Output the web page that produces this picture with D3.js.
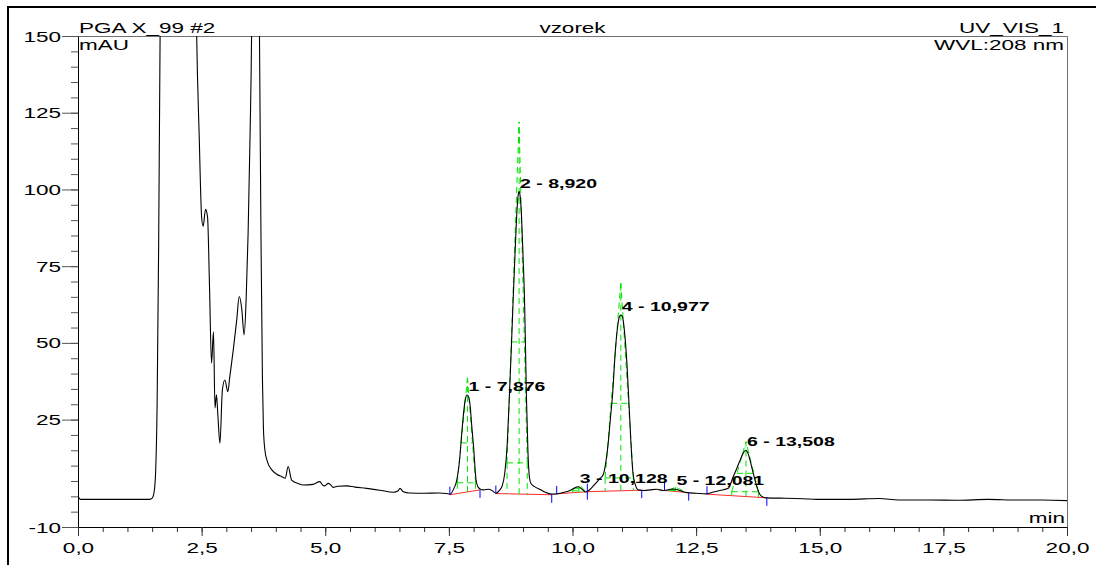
<!DOCTYPE html>
<html>
<head>
<meta charset="utf-8">
<script src="https://cdnjs.cloudflare.com/ajax/libs/d3/7.8.5/d3.min.js"></script>
<style>
  html, body { margin: 0; padding: 0; background: #fff; }
  svg { display: block; font-family: 'Liberation Sans', Arial, sans-serif; }
</style>
</head>
<body>
<svg id="chart" width="1096" height="565"></svg>
<script>
// chromatogram trace (min / mAU)
var traceTime = [
  0.00, 0.05, 0.50, 1.00, 1.45, 1.50, 1.54, 1.57, 1.60, 1.63, 1.66, 1.70, 1.80, 2.00, 2.20, 2.35, 2.40, 2.45, 2.50, 2.53,
  2.58, 2.62, 2.66, 2.70, 2.74, 2.77, 2.80, 2.83, 2.87, 2.92, 2.97, 3.03, 3.07, 3.14, 3.21, 3.26, 3.31, 3.36, 3.40, 3.44,
  3.48, 3.51, 3.55, 3.60, 3.64, 3.67, 3.70, 3.73, 3.75, 3.78, 3.82, 3.92, 4.02, 4.12, 4.19, 4.25, 4.32, 4.45, 4.56, 4.75,
  4.89, 4.95, 4.99, 5.06, 5.10, 5.16, 5.25, 5.43, 5.60, 5.83, 6.10, 6.38, 6.47, 6.51, 6.58, 6.70, 7.00, 7.30, 7.45, 7.52,
  7.60, 7.66, 7.72, 7.76, 7.80, 7.83, 7.87, 7.90, 7.93, 7.96, 8.00, 8.05, 8.09, 8.13, 8.20, 8.30, 8.38, 8.45, 8.53, 8.58,
  8.63, 8.68, 8.72, 8.76, 8.80, 8.84, 8.87, 8.90, 8.92, 8.94, 8.97, 9.00, 9.03, 9.05, 9.07, 9.10, 9.13, 9.16, 9.25, 9.35,
  9.45, 9.58, 9.68, 9.80, 9.95, 10.05, 10.12, 10.20, 10.27, 10.32, 10.40, 10.50, 10.56, 10.62, 10.66, 10.72, 10.77, 10.81, 10.86, 10.91,
  10.95, 10.98, 11.01, 11.05, 11.10, 11.14, 11.18, 11.22, 11.27, 11.33, 11.45, 11.57, 11.70, 11.84, 11.95, 12.04, 12.15, 12.31, 12.50, 12.71,
  12.85, 12.98, 13.15, 13.25, 13.32, 13.39, 13.45, 13.50, 13.55, 13.59, 13.64, 13.69, 13.74, 13.79, 13.86, 13.93, 14.20, 14.50, 14.80, 15.00,
  15.60, 16.20, 16.60, 17.20, 17.80, 18.40, 19.00, 19.50, 20.00
];
var traceSignal = [
  0.0, -1.0, -1.0, -1.0, -1.0, -0.6, 1.5, 8, 30, 80, 150, 260, 500, 800, 500, 220, 150, 118, 91, 88,
  93.5, 91, 68, 43.4, 53.6, 28.8, 33.1, 26, 17.3, 34.7, 37.9, 34.1, 39.0, 47.7, 57.5, 65.1, 61.3, 52.6, 64, 85.7,
  118, 150, 260, 280, 200, 150, 85, 38, 22, 15, 11.8, 8.6, 7.2, 6.4, 5.9, 9.7, 5.3, 4.2, 3.7, 3.9,
  4.8, 3.6, 3.4, 4.2, 3.9, 2.9, 3.3, 3.4, 3.0, 2.6, 2.0, 1.3, 1.7, 2.6, 1.5, 1.1, 1.0, 1.1, 0.9, 0.7,
  2.5, 5.3, 12.5, 20.5, 27.5, 31.4, 33.0, 32.3, 29.5, 23.5, 16.0, 5.3, 3.0, 2.4, 2.1, 2.3, 1.8, 1.0, 2.1, 3.5,
  7.5, 17, 31.4, 47, 64, 80, 91.1, 98, 99.3, 98, 91, 78, 64, 48, 31.4, 14, 6.0, 4.2, 3.0, 2.2,
  1.3, 0.7, 0.8, 1.2, 1.9, 2.8, 3.1, 2.2, 1.4, 1.8, 3.0, 4.8, 5.9, 7.0, 9.7, 17, 26, 33, 46, 55,
  58.6, 59.1, 58.5, 54, 43.4, 31, 18, 8, 3.8, 2.1, 1.9, 2.1, 2.3, 1.9, 2.2, 2.4, 2.0, 1.2, 1.0, 0.8,
  1.4, 1.9, 2.6, 6.4, 9.0, 11.8, 14.0, 15.0, 14.0, 11.8, 8.5, 5.3, 2.5, 0.6, -0.3, -0.5, -0.6, -0.7, -0.9, -1.0,
  -1.0, -0.7, -1.2, -1.2, -1.3, -1.0, -1.2, -1.2, -1.4
];

// integrated peaks
var peakLabel = ['1 - 7,876', '2 - 8,920', '3 - 10,128', '4 - 10,977', '5 - 12,081', '6 - 13,508'];
var peakRt    = [7.876, 8.920, 10.128, 10.977, 12.081, 13.508];
var peakApex  = [33.0, 99.3, 3.1, 59.1, 2.4, 15.0];
var peakTop   = [38.6, 122.0, 4.2, 69.5, 3.0, 17.8];
var peakFootL = [7.67, 8.676, 10.00, 10.66, 11.95, 13.22];
var peakFootR = [8.04, 9.085, 10.25, 11.23, 12.22, 13.76];
var peakHalf  = [17.4, 50.3, 2.6, 30.3, 2.2, 7.5];
var peakLow   = [4.4, 10.9, 1.8, 6.0, 1.9, 1.5];

// integration baselines (start / end of each peak)
var baseStartT = [7.52, 8.45, 9.68, 10.30, 11.86, 12.72];
var baseStartV = [0.5, 0.9, 0.8, 1.5, 1.9, 0.7];
var baseEndT   = [8.13, 9.58, 10.30, 11.40, 12.35, 13.93];
var baseEndV   = [2.1, 0.5, 1.5, 2.0, 1.2, -0.5];

var xMajorTicks = [0, 2.5, 5, 7.5, 10, 12.5, 15, 17.5, 20];
var xTickLabels = ['0,0', '2,5', '5,0', '7,5', '10,0', '12,5', '15,0', '17,5', '20,0'];
var yMajorTicks = [-10, 25, 50, 75, 100, 125, 150];
var yTickLabels = ['-10', '25', '50', '75', '100', '125', '150'];

var titleLeft = 'PGA X_99 #2';
var titleCenter = 'vzorek';
var titleRight = 'UV_VIS_1';
var unitY = 'mAU';
var unitX = 'min';
var wavelength = 'WVL:208 nm';

;(function (window, document, undefined) {

  'use strict';

  var left = 78, right = 1067, top = 36, bottom = 527;
  var sx = 1.5;

  var x = d3.scaleLinear().domain([0, 20]).range([left, right]);
  var y = d3.scaleLinear().domain([-10, 150]).range([bottom, top]);

  var svg = d3.select('#chart');

  var _text = function (str, px, py, anchor, size, weight) {
    return svg.append('text')
      .attr('transform', 'translate(' + px + ',' + py + ') scale(' + sx + ',1)')
      .attr('text-anchor', anchor)
      .attr('font-size', size)
      .attr('font-weight', weight || 'normal')
      .attr('fill', '#000')
      .text(str);
  };

  // outer frame (top + left only)
  svg.append('line').attr('x1', 7).attr('y1', 7).attr('x2', 1096).attr('y2', 7)
    .attr('stroke', '#000').attr('stroke-width', 2);
  svg.append('line').attr('x1', 8).attr('y1', 6).attr('x2', 8).attr('y2', 565)
    .attr('stroke', '#000').attr('stroke-width', 2);

  // plot box top and right edges
  svg.append('path')
    .attr('d', 'M' + left + ',' + (top + 0.5) + 'H' + (right + 0.5) + 'V' + bottom)
    .attr('fill', 'none')
    .attr('stroke', '#707070');

  svg.append('defs').append('clipPath').attr('id', 'plot-clip')
    .append('rect')
    .attr('x', left).attr('y', top)
    .attr('width', right - left).attr('height', bottom - top);

  // y axis
  var yMinor = svg.append('g')
    .attr('transform', 'translate(' + left + ',0)')
    .call(d3.axisLeft(y).tickValues(d3.range(-10, 151, 5)).tickSize(7).tickSizeOuter(0).tickFormat(''));
  yMinor.select('.domain').remove();
  yMinor.selectAll('line').attr('stroke', '#555');

  var yAxis = svg.append('g')
    .attr('transform', 'translate(' + left + ',0)')
    .call(d3.axisLeft(y).tickValues(yMajorTicks).tickSize(16).tickSizeOuter(0)
      .tickFormat(function (d, i) { return yTickLabels[i]; }));
  yAxis.attr('font-size', null).attr('font-family', null);
  yAxis.select('.domain').attr('stroke', '#000');
  yAxis.selectAll('.tick line').attr('stroke', '#555');
  yAxis.selectAll('.tick text')
    .attr('x', 0)
    .attr('dy', '0.34em')
    .attr('font-size', 15)
    .attr('fill', '#000')
    .attr('transform', 'translate(-17,0) scale(' + sx + ',1)');

  // x axis
  var xMinor = svg.append('g')
    .attr('transform', 'translate(0,' + bottom + ')')
    .call(d3.axisBottom(x).tickValues(d3.range(0, 20.01, 0.5)).tickSize(5).tickSizeOuter(0).tickFormat(''));
  xMinor.select('.domain').remove();
  xMinor.selectAll('line').attr('stroke', '#333');

  var xAxis = svg.append('g')
    .attr('transform', 'translate(0,' + bottom + ')')
    .call(d3.axisBottom(x).tickValues(xMajorTicks).tickSize(9).tickSizeOuter(0)
      .tickFormat(function (d, i) { return xTickLabels[i]; }));
  xAxis.attr('font-size', null).attr('font-family', null);
  xAxis.select('.domain').attr('stroke', '#000');
  xAxis.selectAll('.tick line').attr('stroke', '#333');
  xAxis.selectAll('.tick text')
    .attr('y', 0)
    .attr('dy', 0)
    .attr('font-size', 15)
    .attr('fill', '#000')
    .attr('transform', 'translate(0,26) scale(' + sx + ',1)');

  var plot = svg.append('g').attr('clip-path', 'url(#plot-clip)');

  // integration baselines
  var i;
  for (i = 0; i < baseStartT.length; i++) {
    plot.append('line')
      .attr('x1', x(baseStartT[i])).attr('y1', y(baseStartV[i]))
      .attr('x2', x(baseEndT[i])).attr('y2', y(baseEndV[i]))
      .attr('stroke', '#ff2a2a').attr('stroke-width', 1);
  }

  // green tangent construction
  var baseAt = function (k, t) {
    var f = (t - baseStartT[k]) / (baseEndT[k] - baseStartT[k]);
    return baseStartV[k] + f * (baseEndV[k] - baseStartV[k]);
  };
  var dash = function (t1, v1, t2, v2) {
    plot.append('line')
      .attr('x1', x(t1)).attr('y1', y(v1))
      .attr('x2', x(t2)).attr('y2', y(v2))
      .attr('stroke', '#00e600')
      .attr('stroke-width', 1)
      .attr('stroke-dasharray', '6,4');
  };
  for (i = 0; i < peakRt.length; i++) {
    var rt = peakRt[i], tp = peakTop[i], lo = peakLow[i], hf = peakHalf[i];
    var fL = peakFootL[i], fR = peakFootR[i];
    var g = (hf - lo) / (tp - lo);
    dash(fL, lo, rt, tp);
    dash(fR, lo, rt, tp);
    dash(rt, baseAt(i, rt), rt, tp);
    dash(fL + (rt - fL) * g, hf, fR + (rt - fR) * g, hf);
    dash(fL, lo, fR, lo);
    dash(fL, lo, fL, baseAt(i, fL));
    dash(fR, lo, fR, baseAt(i, fR));
  }

  // the trace
  var trace = traceTime.map(function (t, k) { return { t: t, v: traceSignal[k] }; });
  plot.append('path')
    .datum(trace)
    .attr('fill', 'none')
    .attr('stroke', '#000')
    .attr('stroke-width', 1.1)
    .attr('d', d3.line()
      .x(function (d) { return x(d.t); })
      .y(function (d) { return y(d.v); })
      .curve(d3.curveMonotoneX));

  // peak start / end markers
  for (i = 0; i < baseStartT.length; i++) {
    svg.append('line')
      .attr('x1', x(baseStartT[i])).attr('y1', y(baseStartV[i]))
      .attr('x2', x(baseStartT[i])).attr('y2', y(baseStartV[i]) - 8)
      .attr('stroke', '#0000ff');
    svg.append('line')
      .attr('x1', x(baseEndT[i])).attr('y1', y(baseEndV[i]))
      .attr('x2', x(baseEndT[i])).attr('y2', y(baseEndV[i]) + 8)
      .attr('stroke', '#0000ff');
  }

  // peak labels
  for (i = 0; i < peakRt.length; i++) {
    _text(peakLabel[i], x(peakRt[i]) + 1, y(peakApex[i]) - 4, 'start', 13, 'bold');
  }

  // header texts
  _text(titleLeft, 79, 33, 'start', 15);
  _text(unitY, 79, 50, 'start', 15);
  _text(titleCenter, (left + right) / 2, 33, 'middle', 15);
  _text(titleRight, 1064, 33, 'end', 15);
  _text(wavelength, 1064, 50, 'end', 15);
  _text(unitX, 1065, 523, 'end', 15);

})(window, document);
</script>
</body>
</html>
